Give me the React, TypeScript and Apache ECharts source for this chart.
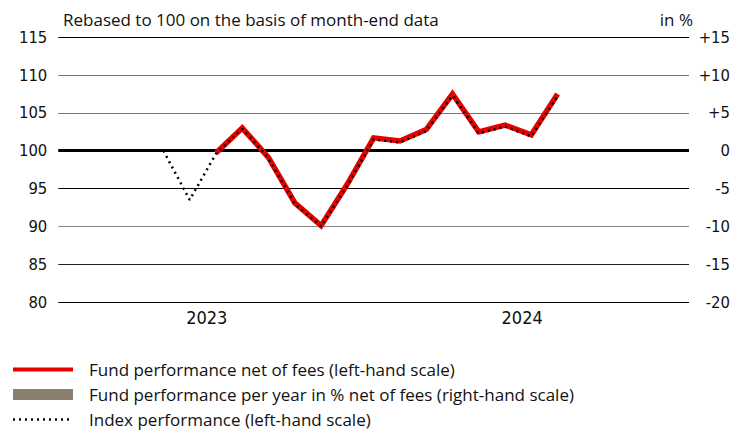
import React, { useEffect, useRef } from "react";
import * as echarts from "echarts";

// Month-end observations (YYYY-MM)
const months = [
  "2023-04", "2023-05", "2023-06", "2023-07", "2023-08", "2023-09", "2023-10", "2023-11",
  "2023-12", "2024-01", "2024-02", "2024-03", "2024-04", "2024-05", "2024-06", "2024-07",
];
// Fund performance net of fees, rebased to 100 (left-hand scale)
const fundValues: (number | null)[] = [
  null, null, 99.7, 103.0, 99.1, 93.1, 90.1, 95.6, 101.7, 101.3, 102.8, 107.5, 102.5, 103.4, 102.1, 107.5,
];
// Index performance, rebased to 100 (left-hand scale)
const indexValues: number[] = [
  100.0, 93.5, 99.6, 102.9, 99.0, 93.0, 90.0, 95.4, 101.5, 101.1, 102.6, 107.3, 102.3, 103.2, 101.9, 107.2,
];
// Fund performance per year in % (right-hand scale) – no full calendar year yet
const yearlyPerf: number[] = [];
const years = ["2023", "2024"];
const leftTicks = [80, 85, 90, 95, 100, 105, 110, 115];
const rightTicks = [-20, -15, -10, -5, 0, 5, 10, 15];

const seriesNames = [
  "Fund performance net of fees (left-hand scale)",
  "Fund performance per year in % net of fees (right-hand scale)",
  "Index performance (left-hand scale)",
];

const monthPos = (m: string) => {
  const [y, mm] = m.split("-").map(Number);
  return (y - Number(years[0])) * 12 + mm;
};

const TEXT_FONT = "'Open Sans', 'Noto Sans', sans-serif";
const NUM_FONT = "'Liberation Sans Narrow', 'DejaVu Sans Condensed', sans-serif";

export default function App() {
  const ref = useRef<HTMLDivElement>(null);
  useEffect(() => {
    if (!ref.current) return;
    const chart = echarts.init(ref.current, undefined, { renderer: "svg" });
    const fundData = months.map((m, i) => [monthPos(m), fundValues[i]]);
    const indexData = months.map((m, i) => [monthPos(m), indexValues[i]]);
    chart.setOption({
      animation: false,
      backgroundColor: "#fff",
      grid: { left: 58.3, right: 43, top: 37.3, bottom: 128, containLabel: false },
      graphic: [
        {
          type: "text",
          left: 63,
          top: 11,
          style: { text: "Rebased to 100 on the basis of month-end data", font: `17px ${TEXT_FONT}`, fill: "#111" },
        },
        {
          type: "text",
          right: 40,
          top: 11,
          style: { text: "in %", font: `17px ${TEXT_FONT}`, fill: "#111" },
        },
      ],
      legend: {
        orient: "vertical",
        left: 11,
        top: 361,
        padding: 0,
        itemWidth: 60,
        itemHeight: 11,
        itemGap: 8,
        selectedMode: false,
        textStyle: { fontFamily: TEXT_FONT, fontSize: 17, color: "#111", padding: [0, 0, 0, 11] },
        data: [
          { name: seriesNames[0], itemStyle: { opacity: 0 }, lineStyle: { width: 4, color: "#e60000" } },
          { name: seriesNames[1], icon: "rect", itemStyle: { color: "#8b7e6f" } },
          { name: seriesNames[2], itemStyle: { opacity: 0 }, lineStyle: { width: 2.5, type: [2, 4], color: "#000" } },
        ],
      },
      xAxis: {
        type: "value",
        min: 0,
        max: 24,
        axisLine: { show: false },
        axisTick: { show: false },
        splitLine: { show: false },
        axisLabel: {
          customValues: years.map((_, i) => i * 12 + 5.65),
          formatter: (v: number) => years[Math.floor(v / 12)] ?? "",
          fontFamily: NUM_FONT,
          fontSize: 18,
          color: "#111",
          margin: 6,
        },
      },
      yAxis: [
        {
          type: "value",
          min: leftTicks[0],
          max: leftTicks[leftTicks.length - 1],
          interval: 5,
          axisLine: { show: false },
          axisTick: { show: false },
          axisLabel: { fontFamily: NUM_FONT, fontSize: 16.5, color: "#111", margin: 11 },
          splitLine: {
            show: true,
            lineStyle: { color: ["#000", "#222", "#888", "#000", "#000", "#777", "#777", "#000"], width: 1 },
          },
        },
        {
          type: "value",
          min: rightTicks[0],
          max: rightTicks[rightTicks.length - 1],
          interval: 5,
          position: "right",
          axisLine: { show: false },
          axisTick: { show: false },
          splitLine: { show: false },
          axisLabel: {
            fontFamily: NUM_FONT,
            fontSize: 16.5,
            color: "#111",
            align: "right",
            margin: 41,
            formatter: (v: number) => (v > 0 ? `+${v}` : `${v}`),
          },
        },
      ],
      series: [
        {
          name: seriesNames[0],
          type: "line",
          data: fundData,
          symbol: "none",
          connectNulls: false,
          lineStyle: { color: "#e60000", width: 5.5, join: "miter" },
          itemStyle: { color: "#e60000" },
          z: 3,
          markLine: {
            silent: true,
            symbol: "none",
            label: { show: false },
            lineStyle: { color: "#000", width: 3, type: "solid" },
            data: [{ yAxis: 100 }],
            z: 2,
          },
        },
        {
          name: seriesNames[1],
          type: "bar",
          yAxisIndex: 1,
          data: yearlyPerf,
          itemStyle: { color: "#8b7e6f" },
        },
        {
          name: seriesNames[2],
          type: "line",
          data: indexData,
          symbol: "none",
          lineStyle: { color: "#000", width: 2.5, type: [2, 4] },
          itemStyle: { color: "#000" },
          z: 4,
        },
      ],
    });
    return () => chart.dispose();
  }, []);
  return <div ref={ref} style={{ width: 733, height: 430, position: "absolute", left: 0, top: 0 }} />;
}
